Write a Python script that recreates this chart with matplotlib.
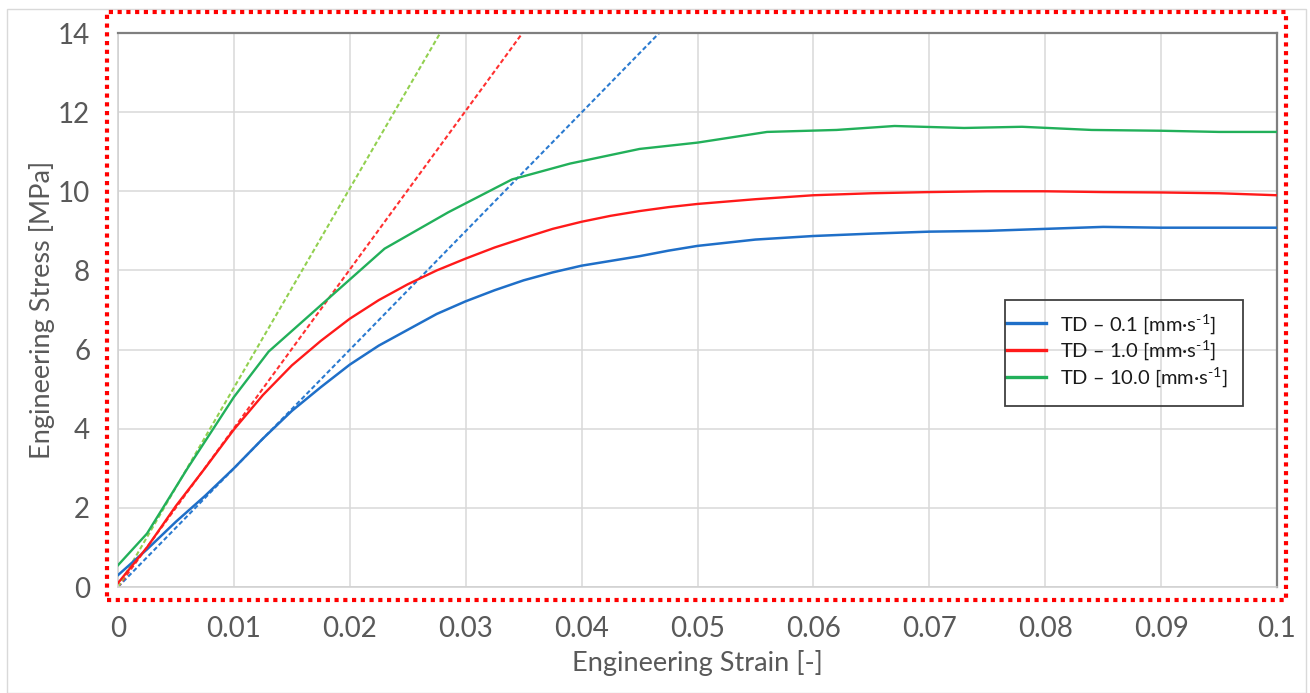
import matplotlib
matplotlib.use("Agg")
import matplotlib.pyplot as plt
from matplotlib.patches import Rectangle

plt.rcParams['font.family'] = ['Lato', 'DejaVu Sans']
plt.rcParams['mathtext.fontset'] = 'custom'
plt.rcParams['mathtext.rm'] = 'Lato'
plt.rcParams['mathtext.it'] = 'Lato:italic'

# ---- data ----
blue_x = [0, 0.0025, 0.005, 0.0075, 0.01, 0.0125, 0.015, 0.0175, 0.02, 0.0225, 0.025,
          0.0275, 0.03, 0.0325, 0.035, 0.0375, 0.04, 0.0425, 0.045, 0.0475, 0.05, 0.055,
          0.06, 0.065, 0.07, 0.075, 0.08, 0.085, 0.09, 0.095, 0.1]
blue_y = [0.3, 0.95, 1.65, 2.3, 3.0, 3.75, 4.45, 5.05, 5.62, 6.1, 6.5,
          6.9, 7.22, 7.5, 7.75, 7.95, 8.12, 8.24, 8.36, 8.5, 8.62, 8.78,
          8.87, 8.93, 8.98, 9.0, 9.05, 9.1, 9.08, 9.08, 9.08]

red_x = blue_x
red_y = [0.1, 1.0, 2.05, 3.0, 3.98, 4.85, 5.6, 6.22, 6.78, 7.25, 7.65,
         8.0, 8.3, 8.58, 8.82, 9.05, 9.23, 9.38, 9.5, 9.6, 9.68, 9.8,
         9.9, 9.95, 9.98, 10.0, 10.0, 9.98, 9.97, 9.95, 9.9]

green_x = [0, 0.0025, 0.006, 0.01, 0.013, 0.023, 0.0285, 0.034, 0.039, 0.045, 0.05,
           0.056, 0.062, 0.067, 0.073, 0.078, 0.084, 0.09, 0.095, 0.1]
green_y = [0.55, 1.35, 3.0, 4.8, 5.95, 8.55, 9.47, 10.3, 10.7, 11.07, 11.23,
           11.5, 11.55, 11.65, 11.6, 11.63, 11.55, 11.53, 11.5, 11.5]

# linear elastic fits (dashed)
blue_fit_x = [0, 0.0467]
blue_fit_y = [0, 14]
red_fit_x = [0, 0.0349]
red_fit_y = [0, 14]
green_fit_x = [0, 0.0278]
green_fit_y = [0, 14]

labels = [r'TD – 0.1 [mm·s$^{\text{-1}}$]', r'TD – 1.0 [mm·s$^{\text{-1}}$]',
          r'TD – 10.0 [mm·s$^{\text{-1}}$]']
x_ticks = [0, 0.01, 0.02, 0.03, 0.04, 0.05, 0.06, 0.07, 0.08, 0.09, 0.1]
x_tick_labels = ['0', '0.01', '0.02', '0.03', '0.04', '0.05', '0.06', '0.07', '0.08', '0.09', '0.1']
y_ticks = [0, 2, 4, 6, 8, 10, 12, 14]

# ---- style ----
c_blue = '#1f6fc8'
c_red = '#ff1a1a'
c_green = '#22b05a'
c_blue_d = '#2a7ad0'
c_red_d = '#ff3030'
c_green_d = '#92d050'
txt = '#595959'

W, H = 1310, 693
fig = plt.figure(figsize=(W / 100, H / 100), dpi=100)
ax = fig.add_axes([118 / W, 1 - 587 / H, (1277 - 118) / W, (587 - 33) / H])

dash = (0, (2.2, 1.3))
ax.plot(blue_fit_x, blue_fit_y, color=c_blue_d, lw=1.5, ls=dash, zorder=2)
ax.plot(red_fit_x, red_fit_y, color=c_red_d, lw=1.5, ls=dash, zorder=2)
ax.plot(green_fit_x, green_fit_y, color=c_green_d, lw=1.5, ls=dash, zorder=2)

ax.plot(blue_x, blue_y, color=c_blue, lw=1.8, label=labels[0], zorder=3)
ax.plot(red_x, red_y, color=c_red, lw=1.7, label=labels[1], zorder=3)
ax.plot(green_x, green_y, color=c_green, lw=1.7, label=labels[2], zorder=3)

ax.set_xlim(0, 0.1)
ax.set_ylim(0, 14)
ax.set_xticks(x_ticks)
ax.set_xticklabels(x_tick_labels)
ax.set_yticks(y_ticks)
ax.grid(True, color='#d9d9d9', lw=1.1)
ax.set_axisbelow(True)
ax.tick_params(length=0, labelsize=20, labelcolor=txt)
ax.tick_params(axis='y', pad=20)
ax.tick_params(axis='x', pad=21)
for s in ['left', 'bottom']:
    ax.spines[s].set_color('#d0d0d0')
    ax.spines[s].set_linewidth(1.1)
for s in ['top', 'right']:
    ax.spines[s].set_color('#7f7f7f')
    ax.spines[s].set_linewidth(1.6)

ax.set_xlabel('Engineering Strain [-]', fontsize=19.5, color=txt, labelpad=6)
ax.set_ylabel('Engineering Stress [MPa]', fontsize=19.5, color=txt, labelpad=2)

leg = ax.legend(loc='upper left', bbox_to_anchor=(1006 / W, 1 - 312 / H),
                bbox_transform=fig.transFigure, fontsize=14.5, frameon=False,
                borderaxespad=0, borderpad=0, handlelength=2.0,
                labelspacing=0.15, handletextpad=0.7)
for t in leg.get_texts():
    t.set_color('#1a1a1a')
for h in leg.get_lines():
    h.set_linewidth(2.4)
# legend frame
fig.patches.append(Rectangle((1005 / W, 1 - 406 / H), (1243 - 1005) / W, (406 - 300) / H,
                             transform=fig.transFigure, fill=False, edgecolor='#404040',
                             lw=1.3, zorder=5))

# red dotted frame around plot area
fig.patches.append(Rectangle((107 / W, 1 - 600 / H), (1286 - 107) / W, (600 - 12) / H,
                             transform=fig.transFigure, fill=False, edgecolor='#ff0000',
                             lw=3.0, ls=(0, (1, 1.1)), zorder=10))
# light outer frame
fig.patches.append(Rectangle((7 / W, 0.5 / H), (1306 - 7) / W, (H - 9 - 0.5) / H,
                             transform=fig.transFigure, fill=False, edgecolor='#d9d9d9',
                             lw=1.0, zorder=0))

fig.savefig('out.png', dpi=100)
